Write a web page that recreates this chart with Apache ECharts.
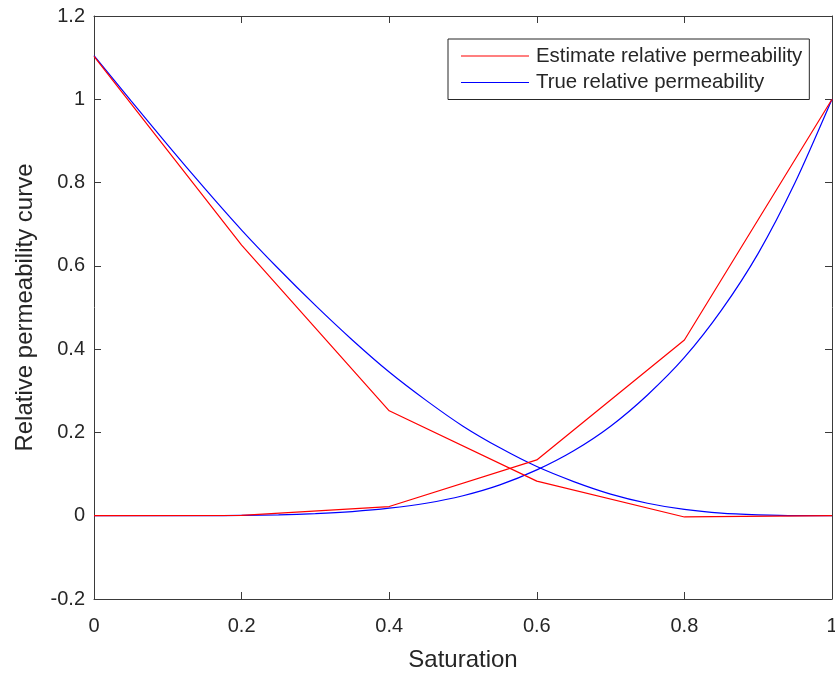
<!DOCTYPE html>
<html>
<head>
<meta charset="utf-8">
<script src="https://cdn.jsdelivr.net/npm/echarts@6/dist/echarts.min.js"></script>
<style>
html,body{margin:0;padding:0;background:#fff;overflow:hidden;}
#chart{width:835px;height:675px;}
</style>
</head>
<body>
<div id="chart"></div>
<script>
// Saturation grid for the estimated (piecewise-linear) curves
const satEstimate = [0, 0.2, 0.4, 0.6, 0.8, 1.0];
const estDecreasing = [1.103, 0.650, 0.252, 0.083, -0.003, 0.000];
const estIncreasing = [0.000, 0.001, 0.022, 0.134, 0.422, 1.000];

// Saturation grid for the true (smooth) curves
const satTrue = [0, 0.05, 0.1, 0.15, 0.2, 0.25, 0.3, 0.35, 0.4, 0.45, 0.5,
                 0.55, 0.6, 0.65, 0.7, 0.75, 0.8, 0.85, 0.9, 0.95, 1.0];
const trueDecreasing = [1.105, 0.997, 0.890, 0.786, 0.686, 0.593, 0.505, 0.422, 0.345, 0.277, 0.215,
                        0.163, 0.118, 0.082, 0.052, 0.030, 0.015, 0.006, 0.002, 0.000, 0.000];
const trueIncreasing = [0.000, 0.000, 0.000, 0.000, 0.001, 0.002, 0.005, 0.010, 0.018, 0.030, 0.048,
                        0.074, 0.110, 0.156, 0.215, 0.290, 0.380, 0.493, 0.630, 0.800, 1.000];

const xTicks = [0, 0.2, 0.4, 0.6, 0.8, 1];
const yTicks = [-0.2, 0, 0.2, 0.4, 0.6, 0.8, 1, 1.2];

const seriesNames = ['Estimate relative permeability', 'True relative permeability'];
const xLabel = 'Saturation';
const yLabel = 'Relative permeability curve';

const pair = (xs, ys) => xs.map((x, i) => [x, ys[i]]);
const FONT = '"Liberation Sans", Arial, Helvetica, sans-serif';
const AXC = '#262626';
const fmt = v => String(parseFloat(Number(v).toFixed(2)));

const axisCommon = {
  type: 'value',
  axisLine: { show: true, onZero: false, lineStyle: { color: '#3a3a3a', width: 1 } },
  axisTick: { show: true, inside: true, length: 7, lineStyle: { color: '#3a3a3a', width: 1 } },
  splitLine: { show: false },
};

const lineSeries = (name, xs, ys, color, z, smooth) => ({
  name, type: 'line', data: pair(xs, ys),
  showSymbol: false, symbol: 'none', smooth,
  lineStyle: { color, width: 1.2 }, itemStyle: { color },
  xAxisIndex: 0, yAxisIndex: 0, z,
});

const chart = echarts.init(document.getElementById('chart'), null, { renderer: 'canvas' });
chart.setOption({
  backgroundColor: '#ffffff',
  animation: false,
  grid: { left: 94, top: 16, width: 738, height: 583, containLabel: false, outerBoundsMode: 'none' },
  legend: {
    left: 448, top: 39,
    orient: 'vertical',
    data: seriesNames,
    icon: 'rect',
    itemWidth: 68, itemHeight: 1.2,
    itemGap: 6.5,
    padding: [7, 7, 7, 13],
    backgroundColor: '#ffffff',
    borderColor: '#262626', borderWidth: 1, borderRadius: 0,
    textStyle: { fontFamily: FONT, fontSize: 20.4, color: AXC, padding: [0, 0, 0, 2] },
  },
  xAxis: [
    Object.assign({}, axisCommon, {
      position: 'bottom', min: 0, max: 1, interval: 0.2,
      name: xLabel, nameLocation: 'middle', nameGap: 49,
      nameTextStyle: { fontFamily: FONT, fontSize: 24, color: AXC },
      axisLabel: { fontFamily: FONT, fontSize: 20, color: AXC, margin: 17, formatter: fmt },
    }),
    Object.assign({}, axisCommon, {
      position: 'top', min: 0, max: 1, interval: 0.2,
      axisLabel: { show: false },
    }),
  ],
  yAxis: [
    Object.assign({}, axisCommon, {
      position: 'left', min: -0.2, max: 1.2, interval: 0.2,
      name: yLabel, nameLocation: 'middle', nameGap: 57,
      nameTextStyle: { fontFamily: FONT, fontSize: 24, color: AXC },
      axisLabel: { fontFamily: FONT, fontSize: 20, color: AXC, margin: 9, formatter: fmt },
    }),
    Object.assign({}, axisCommon, {
      position: 'right', min: -0.2, max: 1.2, interval: 0.2,
      axisLabel: { show: false },
    }),
  ],
  series: [
    lineSeries(seriesNames[1], satTrue, trueDecreasing, '#0000ff', 2, 0.25),
    lineSeries(seriesNames[1], satTrue, trueIncreasing, '#0000ff', 2, 0.25),
    lineSeries(seriesNames[0], satEstimate, estDecreasing, '#ff0000', 3, false),
    lineSeries(seriesNames[0], satEstimate, estIncreasing, '#ff0000', 3, false),
  ],
});
</script>
</body>
</html>
